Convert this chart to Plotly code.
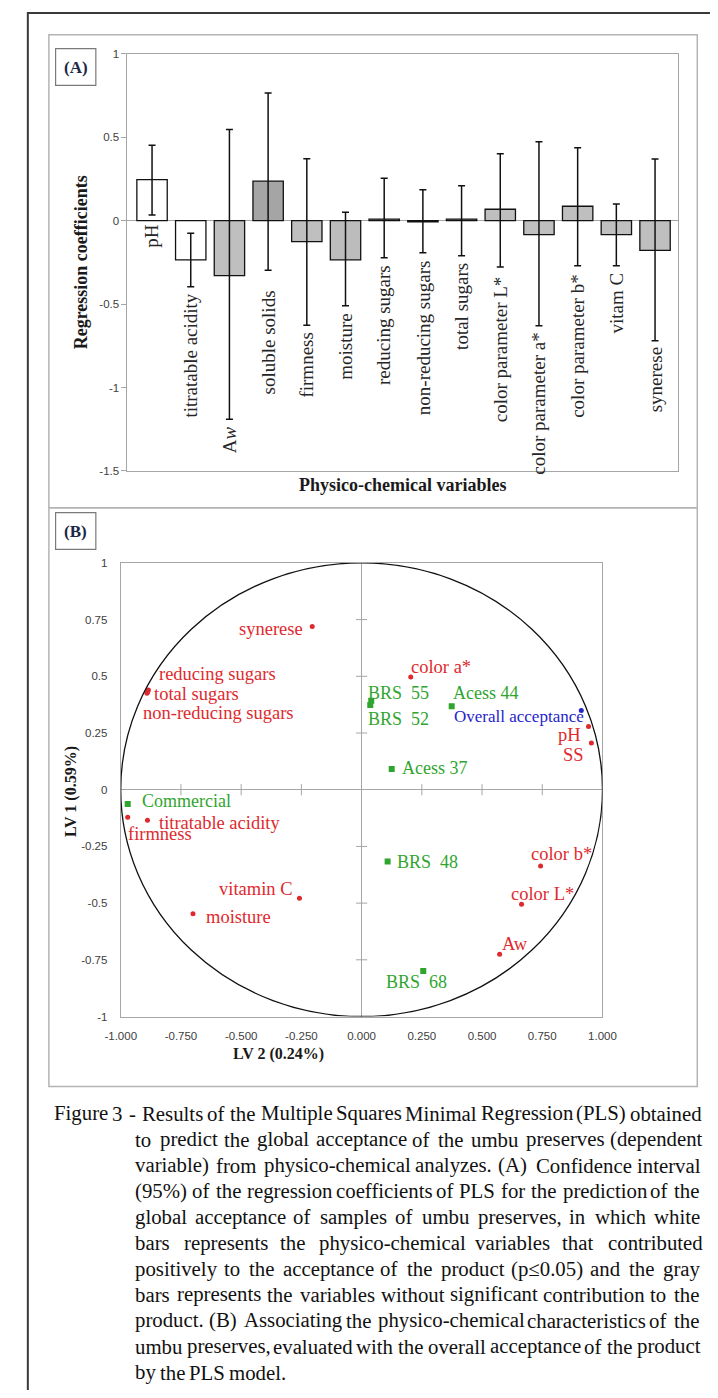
import plotly.graph_objects as go

# The page body adds an 8px margin; the figure is sized and shifted so that
# design coordinates (in screen pixels) land where they should, with no overflow.
W, H = 718, 1398
OFF = 8
FW, FH = W - OFF, H - 2 * OFF

# ---------------- Panel A data ----------------
categories = ["pH", "titratable acidity", "A<i>w</i>", "soluble solids", "firmness", "moisture",
              "reducing sugars", "non-reducing sugars", "total sugars", "color parameter L*",
              "color parameter a*", "color parameter b*", "vitam C", "synerese"]
coef = [0.245, -0.235, -0.33, 0.236, -0.126, -0.235, 0.009, -0.007, 0.009, 0.068,
        -0.084, 0.086, -0.084, -0.179]
ci_upper = [0.452, -0.076, 0.545, 0.765, 0.371, 0.05, 0.254, 0.185, 0.209, 0.40,
            0.472, 0.436, 0.10, 0.369]
ci_lower = [0.034, -0.397, -1.19, -0.298, -0.627, -0.51, -0.223, -0.193, -0.211, -0.278,
            -0.63, -0.27, -0.27, -0.72]
ytick_a = [-1.5, -1, -0.5, 0, 0.5, 1]

# ---------------- Panel B data ----------------
var_names = ["synerese", "reducing sugars", "total sugars", "non-reducing sugars", "color a*",
             "pH", "SS", "titratable acidity", "firmness", "vitamin C", "moisture",
             "color b*", "color L*", "Aw"]
var_lv2 = [-0.205, -0.885, -0.888, -0.891, 0.204, 0.942, 0.954, -0.889, -0.971, -0.258,
           -0.700, 0.743, 0.664, 0.573]
var_lv1 = [0.719, 0.440, 0.432, 0.425, 0.497, 0.279, 0.206, -0.135, -0.122, -0.479,
           -0.547, -0.336, -0.505, -0.726]

sample_names = ["BRS  55", "BRS  52", "Acess 44", "Acess 37", "BRS  48", "BRS  68", "Commercial"]
sample_lv2 = [0.040, 0.036, 0.374, 0.125, 0.108, 0.256, -0.971]
sample_lv1 = [0.392, 0.374, 0.368, 0.091, -0.317, -0.799, -0.063]

resp_names = ["Overall acceptance"]
resp_lv2 = [0.912]
resp_lv1 = [0.349]

tick_b = [-1, -0.75, -0.5, -0.25, 0, 0.25, 0.5, 0.75, 1]

caption_lines = [
    "Figure 3 - Results of the Multiple Squares Minimal Regression (PLS) obtained",
    "to predict the global acceptance of the umbu preserves (dependent",
    "variable) from physico-chemical analyzes. (A) Confidence interval",
    "(95%) of the regression coefficients of PLS for the prediction of the",
    "global acceptance of samples of umbu preserves, in which white",
    "bars represents the physico-chemical variables that contributed",
    "positively to the acceptance of the product (p\u22640.05) and the gray",
    "bars represents the variables without significant contribution to the",
    "product. (B) Associating the physico-chemical characteristics of the",
    "umbu preserves, evaluated with the overall acceptance of the product",
    "by the PLS model.",
]

# ---------------- styles ----------------
SERIF = "Liberation Serif, Times New Roman, serif"
SANS = "Liberation Sans, Arial, sans-serif"
GRAY = "#a6a6a6"
RED = "#de2a2e"
GREEN = "#2fa52f"
BLUE = "#2525cc"
BAR_FILL = ["#ffffff", "#ffffff", "#bfbfbf", "#a5a5a5", "#bfbfbf", "#bcbcbc", "#bfbfbf",
            "#bfbfbf", "#bfbfbf", "#bfbfbf", "#bfbfbf", "#bfbfbf", "#bfbfbf", "#bfbfbf"]


def px(x):
    return (x - OFF) / FW


def py(y):
    return 1 - (y - OFF) / FH


fig = go.Figure()

xs = list(range(len(categories)))
fig.add_trace(go.Bar(
    x=xs, y=coef, width=0.785,
    marker=dict(color=BAR_FILL, line=dict(color="#111111", width=1.3)),
    error_y=dict(type="data", symmetric=False,
                 array=[u - v for u, v in zip(ci_upper, coef)],
                 arrayminus=[v - l for v, l in zip(coef, ci_lower)],
                 color="#111111", thickness=1.5, width=3.5),
    xaxis="x", yaxis="y", hoverinfo="skip",
))

# Panel B: tick marks on the zero lines
inner = [t for t in tick_b if t not in (-1, 0, 1)]
fig.add_trace(go.Scatter(x=inner, y=[0] * len(inner), mode="markers",
                         marker=dict(symbol="line-ns", size=8, line=dict(color=GRAY, width=1)),
                         xaxis="x2", yaxis="y2", hoverinfo="skip"))
fig.add_trace(go.Scatter(x=[0] * len(inner), y=inner, mode="markers",
                         marker=dict(symbol="line-ew", size=8, line=dict(color=GRAY, width=1)),
                         xaxis="x2", yaxis="y2", hoverinfo="skip"))

fig.add_trace(go.Scatter(x=var_lv2, y=var_lv1, mode="markers",
                         marker=dict(symbol="circle", size=5, color=RED),
                         xaxis="x2", yaxis="y2", hoverinfo="skip"))
fig.add_trace(go.Scatter(x=sample_lv2, y=sample_lv1, mode="markers",
                         marker=dict(symbol="square", size=6, color=GREEN),
                         xaxis="x2", yaxis="y2", hoverinfo="skip"))
fig.add_trace(go.Scatter(x=resp_lv2, y=resp_lv1, mode="markers",
                         marker=dict(symbol="circle", size=5, color=BLUE),
                         xaxis="x2", yaxis="y2", hoverinfo="skip"))

annotations = []

# Panel A category labels (rotated)
for i, (lab, lo) in enumerate(zip(categories, ci_lower)):
    shift = -6 if lo < 0 else -2
    if i == 3:
        shift = -19
    if i in (9, 11):
        shift = -8
    annotations.append(dict(text=lab, x=i, y=min(lo, 0), xref="x", yref="y",
                            textangle=-90, xanchor="center", yanchor="top", yshift=shift,
                            showarrow=False, borderpad=0,
                            font=dict(family=SERIF, size=19, color="#262626")))

# Panel B point labels: (xanchor, xshift, yshift)
var_lab_pos = {
    "synerese": ("right", -8, -2), "reducing sugars": ("left", 10, 16),
    "total sugars": ("left", 5, -2), "non-reducing sugars": ("left", -5, -20),
    "color a*": ("left", -1, 10), "pH": ("right", -7, -9), "SS": ("right", -6, -12),
    "titratable acidity": ("left", 11, -3), "firmness": ("left", -1, -17),
    "vitamin C": ("right", -5, 9), "moisture": ("left", 12, -3),
    "color b*": ("left", -11, 12), "color L*": ("left", -12, 10), "Aw": ("left", 1, 10),
}
for n, x, y in zip(var_names, var_lv2, var_lv1):
    xa, dx, dy = var_lab_pos[n]
    annotations.append(dict(text=n, x=x, y=y, xref="x2", yref="y2", xanchor=xa,
                            yanchor="middle", xshift=dx, yshift=dy, showarrow=False,
                            borderpad=0, font=dict(family=SERIF, size=18.5, color=RED)))
sample_lab_pos = {
    "BRS  55": ("left", -4, 8), "BRS  52": ("left", -3, -14), "Acess 44": ("left", 0, 13),
    "Acess 37": ("left", 9, 1), "BRS  48": ("left", 8, 0), "BRS  68": ("left", -38, -11),
    "Commercial": ("left", 13, 3),
}
for n, x, y in zip(sample_names, sample_lv2, sample_lv1):
    xa, dx, dy = sample_lab_pos[n]
    annotations.append(dict(text=n.replace("  ", "&nbsp; "), x=x, y=y, xref="x2", yref="y2",
                            xanchor=xa, yanchor="middle", xshift=dx, yshift=dy,
                            showarrow=False, borderpad=0,
                            font=dict(family=SERIF, size=18, color=GREEN)))
for n, x, y in zip(resp_names, resp_lv2, resp_lv1):
    annotations.append(dict(text=n, x=x, y=y, xref="x2", yref="y2", xanchor="right",
                            yanchor="middle", xshift=4, yshift=-6, showarrow=False,
                            borderpad=0, font=dict(family=SERIF, size=17, color=BLUE)))


# Axis titles and panel tags
def ptext(text, x, y, size, bold=True, angle=0, color="#1a1a1a"):
    t = "<b>%s</b>" % text if bold else text
    annotations.append(dict(text=t, x=px(x), y=py(y), xref="paper", yref="paper",
                            xanchor="center", yanchor="middle", textangle=angle,
                            showarrow=False, borderpad=0,
                            font=dict(family=SERIF, size=size, color=color)))


ptext("Regression coefficients", 67, 259, 18, angle=-90)
ptext("Physico-chemical variables", 403, 483, 18)
ptext("LV 1 (0.59%)", 57, 792, 16, angle=-90)
ptext("LV 2 (0.24%)", 274, 1057, 16)
ptext("(A)", 62, 62, 17, color="#1c2846")
ptext("(B)", 62, 530, 17, color="#1c2846")

# Caption, justified (Times metrics, which Liberation Serif shares)
TIMES = {' ': 250, '!': 333, '%': 833, '(': 333, ')': 333, '*': 500, ',': 250, '-': 333,
         '.': 250, ':': 278, ';': 278, '\u2264': 549,
         'A': 722, 'B': 667, 'C': 667, 'D': 722, 'E': 611, 'F': 556, 'G': 722, 'H': 722,
         'I': 333, 'J': 389, 'K': 722, 'L': 611, 'M': 889, 'N': 722, 'O': 722, 'P': 556,
         'Q': 722, 'R': 667, 'S': 556, 'T': 611, 'U': 722, 'V': 722, 'W': 944, 'X': 722,
         'Y': 722, 'Z': 611,
         'a': 444, 'b': 500, 'c': 444, 'd': 500, 'e': 444, 'f': 333, 'g': 500, 'h': 500,
         'i': 278, 'j': 278, 'k': 500, 'l': 278, 'm': 778, 'n': 500, 'o': 500, 'p': 500,
         'q': 500, 'r': 333, 's': 389, 't': 278, 'u': 500, 'v': 500, 'w': 722, 'x': 500,
         'y': 500, 'z': 444}
for d in "0123456789":
    TIMES[d] = 500
CAP_FS = 20.8


def tw(s):
    return sum(TIMES.get(c, 500) for c in s) * CAP_FS / 1000


for k, line in enumerate(caption_lines):
    words = line.split(" ")
    left = 38 if k == 0 else 123
    right = 711
    yy = 1117 + 26.1 * k
    ws = [tw(w) for w in words]
    if k < len(caption_lines) - 1 and len(words) > 1:
        gap = (right - left - sum(ws)) / (len(words) - 1)
    else:
        gap = 250 * CAP_FS / 1000
    xx = left
    for w, wd in zip(words, ws):
        annotations.append(dict(text=w, x=px(xx), y=py(yy), xref="paper", yref="paper",
                                xanchor="left", yanchor="middle", showarrow=False,
                                borderpad=0,
                                font=dict(family=SERIF, size=CAP_FS, color="#111111")))
        xx += wd + gap

shapes = [
    dict(type="rect", xref="paper", yref="paper", x0=px(12), x1=px(760), y0=py(7), y1=py(1440),
         line=dict(color="#3a3a3a", width=2)),
    dict(type="rect", xref="paper", yref="paper", x0=px(34), x1=px(711), y0=py(29), y1=py(506),
         line=dict(color="#b4b4b4", width=1.5)),
    dict(type="rect", xref="paper", yref="paper", x0=px(34), x1=px(711), y0=py(506), y1=py(1090),
         line=dict(color="#b4b4b4", width=1.5)),
    dict(type="rect", xref="paper", yref="paper", x0=px(41), x1=px(83), y0=py(43), y1=py(80),
         line=dict(color="#7a7a7a", width=1.2)),
    dict(type="rect", xref="paper", yref="paper", x0=px(41), x1=px(83), y0=py(511), y1=py(548),
         line=dict(color="#7a7a7a", width=1.2)),
    dict(type="circle", xref="x2", yref="y2", x0=-1, y0=-1, x1=1, y1=1,
         line=dict(color="#111111", width=1.3)),
]

tickfont = dict(family=SANS, size=11.5, color="#404040")

fig.update_layout(
    width=FW, height=FH, margin=dict(l=0, r=0, t=0, b=0),
    paper_bgcolor="white", plot_bgcolor="white", showlegend=False,
    xaxis=dict(domain=[px(116), px(691)], range=[-0.636, 13.597], showticklabels=False,
               ticks="", showline=True, mirror=True, linecolor=GRAY, linewidth=1,
               showgrid=False, zeroline=False, anchor="y"),
    yaxis=dict(domain=[py(469), py(48)], range=[-1.5, 1], tickvals=ytick_a,
               ticktext=["%g" % t for t in ytick_a], ticks="outside", ticklen=5,
               tickcolor=GRAY, showline=True, mirror=True, linecolor=GRAY, linewidth=1,
               showgrid=False, zeroline=True, zerolinecolor=GRAY, zerolinewidth=1,
               tickfont=tickfont, anchor="x"),
    xaxis2=dict(domain=[px(109), px(612)], range=[-1, 1], tickvals=tick_b,
                ticktext=["%.3f" % t for t in tick_b], ticks="", showline=True, mirror=True,
                linecolor=GRAY, linewidth=1, showgrid=False, zeroline=True,
                zerolinecolor=GRAY, zerolinewidth=1, tickfont=tickfont,
                ticklabelstandoff=9, anchor="y2"),
    yaxis2=dict(domain=[py(1019.3), py(561.7)], range=[-1, 1], tickvals=tick_b,
                ticktext=["%g" % t for t in tick_b], ticks="", showline=True, mirror=True,
                linecolor=GRAY, linewidth=1, showgrid=False, zeroline=True,
                zerolinecolor=GRAY, zerolinewidth=1, tickfont=tickfont,
                ticklabelstandoff=10, anchor="x2"),
    annotations=annotations, shapes=shapes,
)

fig.write_html("out.html")
